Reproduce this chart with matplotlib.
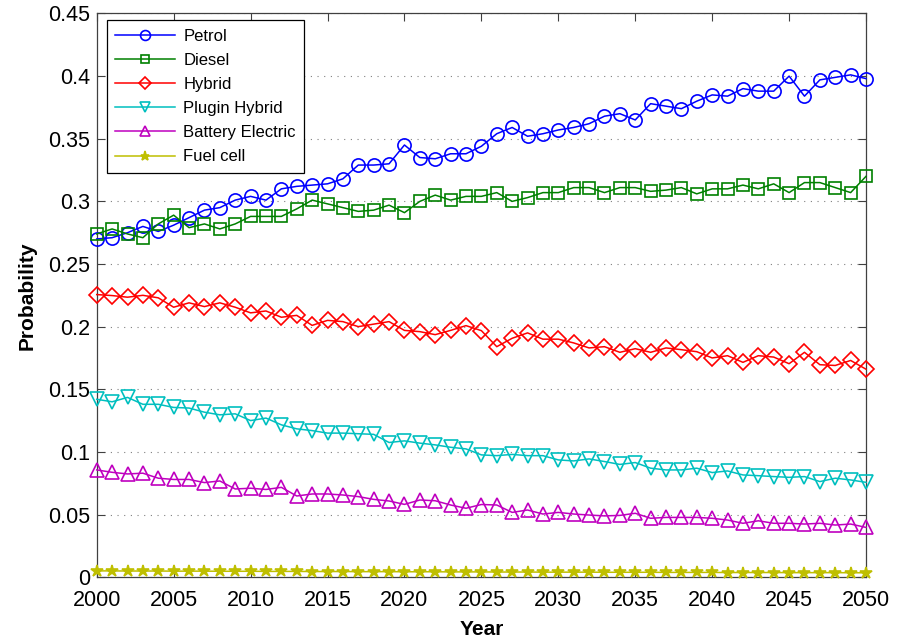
import numpy as np
import matplotlib
matplotlib.use("Agg")
import matplotlib.pyplot as plt

# Yearly probability of each powertrain, 2000-2050
years = np.arange(2000, 2051)

petrol = [0.270, 0.271, 0.275, 0.280, 0.276, 0.281, 0.287, 0.293, 0.295, 0.301,
          0.304, 0.301, 0.310, 0.312, 0.313, 0.314, 0.318, 0.329, 0.329, 0.330,
          0.345, 0.335, 0.334, 0.338, 0.338, 0.344, 0.354, 0.359, 0.352, 0.354,
          0.357, 0.359, 0.362, 0.368, 0.370, 0.365, 0.378, 0.376, 0.374, 0.380,
          0.385, 0.384, 0.390, 0.388, 0.388, 0.400, 0.384, 0.397, 0.399, 0.401,
          0.398]
diesel = [0.274, 0.278, 0.274, 0.271, 0.282, 0.289, 0.279, 0.282, 0.278, 0.282,
          0.288, 0.288, 0.288, 0.294, 0.301, 0.298, 0.295, 0.292, 0.293, 0.297,
          0.291, 0.300, 0.305, 0.301, 0.304, 0.304, 0.307, 0.300, 0.303, 0.307,
          0.307, 0.311, 0.311, 0.307, 0.311, 0.311, 0.308, 0.309, 0.311, 0.306,
          0.310, 0.310, 0.313, 0.310, 0.314, 0.307, 0.315, 0.315, 0.311, 0.307,
          0.320]
hybrid = [0.2256, 0.2248, 0.2235, 0.225, 0.223, 0.2155, 0.219, 0.216, 0.219, 0.2155,
          0.211, 0.2125, 0.2075, 0.209, 0.201, 0.205, 0.204, 0.200, 0.202, 0.204,
          0.197, 0.196, 0.1936, 0.197, 0.2008, 0.1968, 0.184, 0.1907, 0.195, 0.190,
          0.190, 0.187, 0.183, 0.184, 0.1795, 0.1824, 0.1795, 0.183, 0.1816, 0.180,
          0.175, 0.1768, 0.1715, 0.1768, 0.1757, 0.1704, 0.1795, 0.1696, 0.169, 0.173,
          0.166]
plugin_hybrid = [0.142, 0.140, 0.1435, 0.138, 0.138, 0.1355, 0.135, 0.1317, 0.1296, 0.1304,
                 0.125, 0.127, 0.1216, 0.1184, 0.117, 0.115, 0.115, 0.1145, 0.114, 0.1075,
                 0.1088, 0.107, 0.1056, 0.1037, 0.1024, 0.0976, 0.097, 0.098, 0.097, 0.097,
                 0.0936, 0.0928, 0.0944, 0.0923, 0.0900, 0.0915, 0.087, 0.0856, 0.0856, 0.087,
                 0.0835, 0.0848, 0.0816, 0.081, 0.0803, 0.0797, 0.0803, 0.0763, 0.079, 0.0776,
                 0.0757]
battery_electric = [0.0856, 0.0837, 0.0824, 0.083, 0.079, 0.078, 0.078, 0.0755, 0.0768, 0.0704,
                    0.071, 0.070, 0.0717, 0.0648, 0.0664, 0.0664, 0.0656, 0.0643, 0.0621, 0.0608,
                    0.0581, 0.0616, 0.061, 0.0576, 0.055, 0.058, 0.0576, 0.0517, 0.0536, 0.0504,
                    0.0517, 0.0504, 0.0496, 0.0489, 0.0493, 0.051, 0.047, 0.0477, 0.0477, 0.0477,
                    0.047, 0.0456, 0.043, 0.045, 0.043, 0.043, 0.0424, 0.043, 0.0416, 0.0424,
                    0.0397]
fuel_cell = [0.0050, 0.0050, 0.0049, 0.0049, 0.0049, 0.0048, 0.0048, 0.0048, 0.0047, 0.0047,
             0.0047, 0.0046, 0.0046, 0.0046, 0.0045, 0.0045, 0.0045, 0.0044, 0.0044, 0.0044,
             0.0043, 0.0043, 0.0043, 0.0042, 0.0042, 0.0042, 0.0041, 0.0041, 0.0041, 0.0040,
             0.0040, 0.0040, 0.0040, 0.0039, 0.0039, 0.0039, 0.0039, 0.0038, 0.0038, 0.0038,
             0.0038, 0.0037, 0.0037, 0.0037, 0.0037, 0.0036, 0.0036, 0.0036, 0.0036, 0.0035,
             0.0035]

labels = ["Petrol", "Diesel", "Hybrid", "Plugin Hybrid", "Battery Electric", "Fuel cell"]
series = [petrol, diesel, hybrid, plugin_hybrid, battery_electric, fuel_cell]
colors = ["#0000ff", "#008000", "#ff0000", "#00bfbf", "#bf00bf", "#bfbf00"]
markers = ["o", "s", "D", "v", "^", "*"]
msizes = [9.5, 8.5, 8, 10, 10, 9]

plt.rcParams["font.family"] = ["Liberation Sans", "DejaVu Sans"]

fig = plt.figure(figsize=(9.04, 6.42), dpi=100)
ax = fig.add_axes([0.107, 0.101, 0.851, 0.878])

for vals, lab, c, m, ms in zip(series, labels, colors, markers, msizes):
    filled = c if m == "*" else "none"
    ax.plot(years, vals, color=c, marker=m, markersize=ms, markerfacecolor=filled,
            markeredgewidth=1.2, linewidth=1.1, label=lab, clip_on=False, zorder=3)

ax.set_xlim(2000, 2050)
ax.set_ylim(0, 0.45)
ax.set_xticks(np.arange(2000, 2051, 5))
ax.set_yticks(np.arange(0, 0.451, 0.05))
ax.set_yticklabels(["0", "0.05", "0.1", "0.15", "0.2", "0.25", "0.3", "0.35", "0.4", "0.45"])

ax.yaxis.grid(True, linestyle=(0, (1, 5)), color="#808080", linewidth=0.8)
ax.tick_params(direction="in", length=6, width=0.8, top=True, right=True,
               labelsize=15.5, color="#404040")
ax.tick_params(axis="x", pad=9)
ax.tick_params(axis="y", pad=5)
for sp in ax.spines.values():
    sp.set_color("#404040")
    sp.set_linewidth(0.9)

ax.set_xlabel("Year", fontsize=15, fontweight="bold", labelpad=7)
ax.set_ylabel("Probability", fontsize=15, fontweight="bold", labelpad=8)

leg = ax.legend(loc="upper left", bbox_to_anchor=(0.013, 0.988), borderaxespad=0,
                fontsize=12, handlelength=3.6, handletextpad=0.5, labelspacing=0.55,
                borderpad=0.5, markerscale=0.75, fancybox=False, framealpha=1,
                edgecolor="black")
leg.get_frame().set_linewidth(0.9)

fig.savefig("out.png", dpi=100)
